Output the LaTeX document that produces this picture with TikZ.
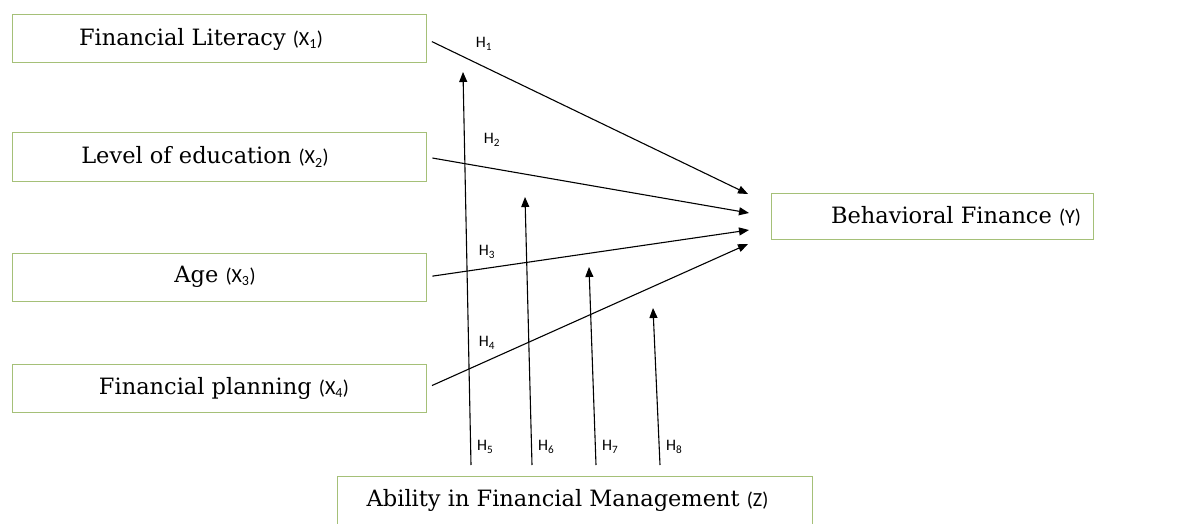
\documentclass[tikz,border=0pt]{standalone}
\usepackage{fontspec}
\setmainfont{DejaVu Serif}
\newfontfamily\hfont{Carlito}
\usetikzlibrary{arrows.meta,positioning}
\definecolor{boxgreen}{RGB}{165,192,120}
\newcommand{\vlab}[2]{{\hfont\fontsize{20}{20}\selectfont(#1\textsubscript{#2})}}
\tikzset{
  var/.style={draw=boxgreen,line width=1pt,minimum width=414pt,minimum height=48pt,
    font=\fontsize{22.5}{26}\selectfont},
  arr/.style={-{Triangle[length=10pt,width=8pt]},line width=1.1pt},
  hyp/.style={font=\hfont\fontsize{16}{16}\selectfont,inner sep=0pt}
}
\begin{document}
\begin{tikzpicture}[x=1pt,y=-1pt]
  \useasboundingbox (0,0) rectangle (1183,524);
  \node[var] (fl) at (219,39) {Financial Literacy \vlab{X}{1}\hspace*{36pt}};
  \node[var] (le) at (219,157) {Level of education \vlab{X}{2}\hspace*{28pt}};
  \node[var] (age) at (219,277) {Age \vlab{X}{3}\hspace*{8pt}};
  \node[var] (fp) at (219,388) {\hspace{10pt}Financial planning \vlab{X}{4}};
  \node[var,minimum width=322pt,minimum height=46pt] (bf) at (932,216)
    {\hspace{48pt}Behavioral Finance {\hfont\fontsize{20}{20}\selectfont(Y)}};
  \node[var,minimum width=475pt,minimum height=60pt,text depth=16pt] (abm) at (574.5,506)
    {Ability in Financial Management {\hfont\fontsize{20}{20}\selectfont(Z)}\hspace*{14pt}};
  \coordinate (e1) at (748,194);
  \coordinate (e2) at (749,213);
  \coordinate (e3) at (749,230);
  \coordinate (e4) at (748,244);
  \draw[arr,shorten <=6pt] (fl.east) -- (e1);
  \draw[arr,shorten <=6pt] (le.east) -- (e2);
  \draw[arr,shorten <=6pt] (age.east) -- (e3);
  \draw[arr,shorten <=6pt] (fp.east) -- (e4);
  \node[hyp] (h1) at (484,44) {H\textsubscript{1}};
  \node[hyp] (h2) at (492,140) {H\textsubscript{2}};
  \node[hyp] (h3) at (487,252) {H\textsubscript{3}};
  \node[hyp] (h4) at (487,343) {H\textsubscript{4}};
  \foreach \i/\bx/\tx/\ty in {5/471/463/72,6/532/525/197,7/596/589/267,8/660/653/308}{
    \coordinate (s\i) at (\bx,465);
    \coordinate (t\i) at (\tx,\ty);
    \draw[arr] (s\i) -- (t\i);
    \node[hyp,anchor=west] (h\i) at ([xshift=6pt,yshift=18pt]s\i) {H\textsubscript{\i}};
  }
\end{tikzpicture}
\end{document}
